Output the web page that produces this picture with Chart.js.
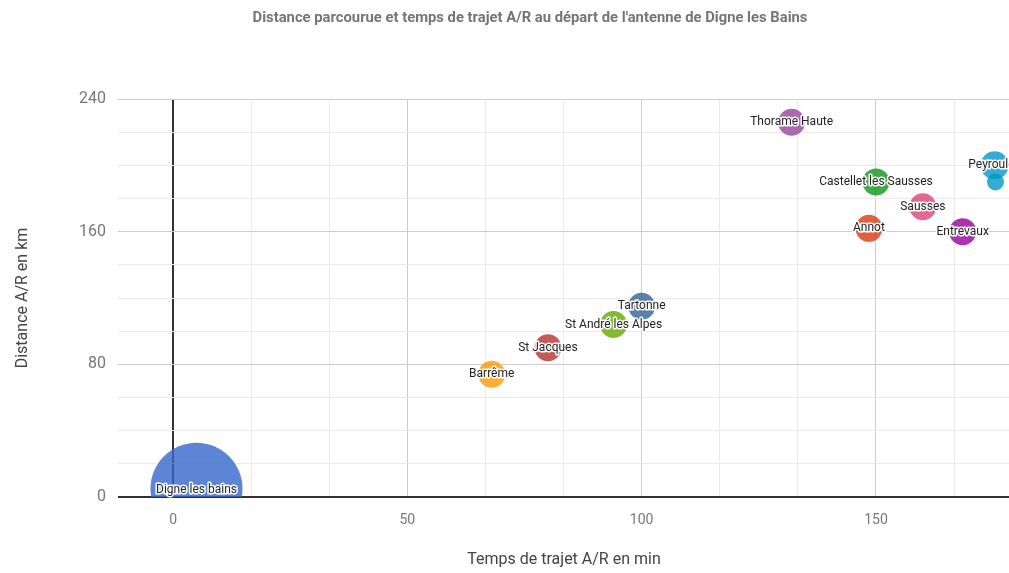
<!DOCTYPE html>
<html>
<head>
<meta charset="utf-8">
<script src="https://cdn.jsdelivr.net/npm/chart.js@4/dist/chart.umd.min.js"></script>
<style>
    html, body { margin: 0; padding: 0; background: #ffffff; overflow: hidden; }
    #wrap { width: 1009px; height: 573px; position: relative; overflow: hidden; }
    /* le contrôleur bubble réserve la marge du plus gros rayon : on élargit le canvas et on coupe */
    #inner { width: 1056px; height: 573px; position: absolute; left: 0; top: 0; }
</style>
</head>
<body>
<div id="wrap"><div id="inner"><canvas id="bubbleChart"></canvas></div></div>
<script>
// Données
const lieux = ['Digne les bains', 'Barrême', 'St Jacques', 'St André les Alpes', 'Tartonne',
    'Thorame Haute', 'Castellet les Sausses', 'Annot', 'Sausses', 'Entrevaux', 'Peyroules', ''];
const tempsTrajet = [5, 68, 80, 94, 100, 132, 150, 148.5, 160, 168.5, 175.3, 175.5];
const distances = [5, 74, 90, 104, 115, 226, 190, 162, 175, 160, 200, 190];
const tailles = [46, 13.5, 13.5, 13.5, 13.5, 13.5, 13.5, 13.5, 13.5, 13.5, 14, 8.5];
const couleurs = ['#3366cc', '#ff9900', '#b82e2e', '#66aa00', '#316395',
    '#994499', '#109618', '#dc3912', '#dd4477', '#990099', '#0099c6', '#0099c6'];

const xGraduations = [0, 50, 100, 150];
const yGraduations = [0, 80, 160, 240];

const titre = "Distance parcourue et temps de trajet A/R au départ de l'antenne de Digne les Bains";

function transparence(hex, a) {
    var r = parseInt(hex.slice(1, 3), 16);
    var g = parseInt(hex.slice(3, 5), 16);
    var b = parseInt(hex.slice(5, 7), 16);
    return 'rgba(' + r + ',' + g + ',' + b + ',' + a + ')';
}

function estGraduation(v, liste) {
    return liste.some(t => Math.abs(t - v) < 1e-6);
}

const points = lieux.map((nom, i) => ({ x: tempsTrajet[i], y: distances[i], r: tailles[i], nom: nom }));

// Étiquettes sur les bulles + titre
const etiquettesPlugin = {
    id: 'etiquettes',
    afterDatasetsDraw(chart) {
        const ctx = chart.ctx;
        const meta = chart.getDatasetMeta(0);
        ctx.save();
        ctx.font = '12px Roboto';
        ctx.textAlign = 'center';
        ctx.textBaseline = 'middle';
        ctx.lineJoin = 'round';
        meta.data.forEach((el, i) => {
            if (!lieux[i]) return;
            var y = el.y;
            if (i === 0) y = el.y + 1;
            ctx.lineWidth = 3;
            ctx.strokeStyle = '#ffffff';
            ctx.strokeText(lieux[i], el.x, y);
            ctx.fillStyle = '#222222';
            ctx.fillText(lieux[i], el.x, y);
        });
        ctx.font = 'bold 14.8px Roboto';
        ctx.fillStyle = '#757575';
        ctx.fillText(titre, 530, 18);
        ctx.restore();
    }
};

const ctx = document.getElementById('bubbleChart').getContext('2d');
new Chart(ctx, {
    type: 'bubble',
    data: {
        datasets: [{
            data: points,
            backgroundColor: couleurs.map(c => transparence(c, 0.8)),
            borderWidth: 0,
            hoverBorderWidth: 0
        }]
    },
    options: {
        responsive: true,
        maintainAspectRatio: false,
        animation: false,
        layout: { padding: { top: 99, right: 0, left: 0, bottom: 0 } },
        plugins: {
            legend: { display: false },
            tooltip: { enabled: false },
            title: { display: false }
        },
        scales: {
            x: {
                type: 'linear',
                min: -11.75,
                max: 178.6,
                border: { display: false },
                afterBuildTicks: function (scale) {
                    var ticks = [];
                    for (var i = 0; i * 50 / 3 <= 178; i++) {
                        ticks.push({ value: i * 50 / 3 });
                    }
                    scale.ticks = ticks;
                },
                afterFit: function (scale) { scale.height = 76; },
                grid: {
                    drawTicks: false,
                    color: function (c) {
                        var v = c.tick ? c.tick.value : 0;
                        if (Math.abs(v) < 1e-6) return '#333333';
                        return estGraduation(v, xGraduations) ? '#cccccc' : '#ebebeb';
                    },
                    lineWidth: function (c) {
                        var v = c.tick ? c.tick.value : 0;
                        return Math.abs(v) < 1e-6 ? 2 : 1;
                    }
                },
                ticks: {
                    autoSkip: false,
                    maxRotation: 0,
                    padding: 15,
                    color: '#777777',
                    font: { family: 'Roboto', size: 14 },
                    callback: function (v) { return estGraduation(v, xGraduations) ? Math.round(v) : ''; }
                },
                title: {
                    display: true,
                    text: 'Temps de trajet A/R en min',
                    color: '#444444',
                    font: { family: 'Roboto', size: 16 },
                    padding: { top: 0, bottom: 3 }
                }
            },
            y: {
                type: 'linear',
                min: 0,
                max: 240,
                border: { display: false },
                afterBuildTicks: function (scale) {
                    var ticks = [];
                    for (var v = 0; v <= 240; v += 20) ticks.push({ value: v });
                    scale.ticks = ticks;
                },
                afterFit: function (scale) { scale.width = 118; },
                grid: {
                    drawTicks: false,
                    color: function (c) {
                        var v = c.tick ? c.tick.value : 0;
                        if (v === 0) return '#333333';
                        return estGraduation(v, yGraduations) ? '#cccccc' : '#ebebeb';
                    },
                    lineWidth: function (c) {
                        var v = c.tick ? c.tick.value : 0;
                        return v === 0 ? 2 : 1;
                    }
                },
                ticks: {
                    autoSkip: false,
                    padding: 12,
                    color: '#777777',
                    font: { family: 'Roboto', size: 16 },
                    callback: function (v) { return estGraduation(v, yGraduations) ? v : ''; }
                },
                title: {
                    display: true,
                    text: 'Distance A/R en km',
                    color: '#444444',
                    font: { family: 'Roboto', size: 16 },
                    padding: { top: 13, bottom: 0 }
                }
            }
        }
    },
    plugins: [etiquettesPlugin]
});
</script>
</body>
</html>
